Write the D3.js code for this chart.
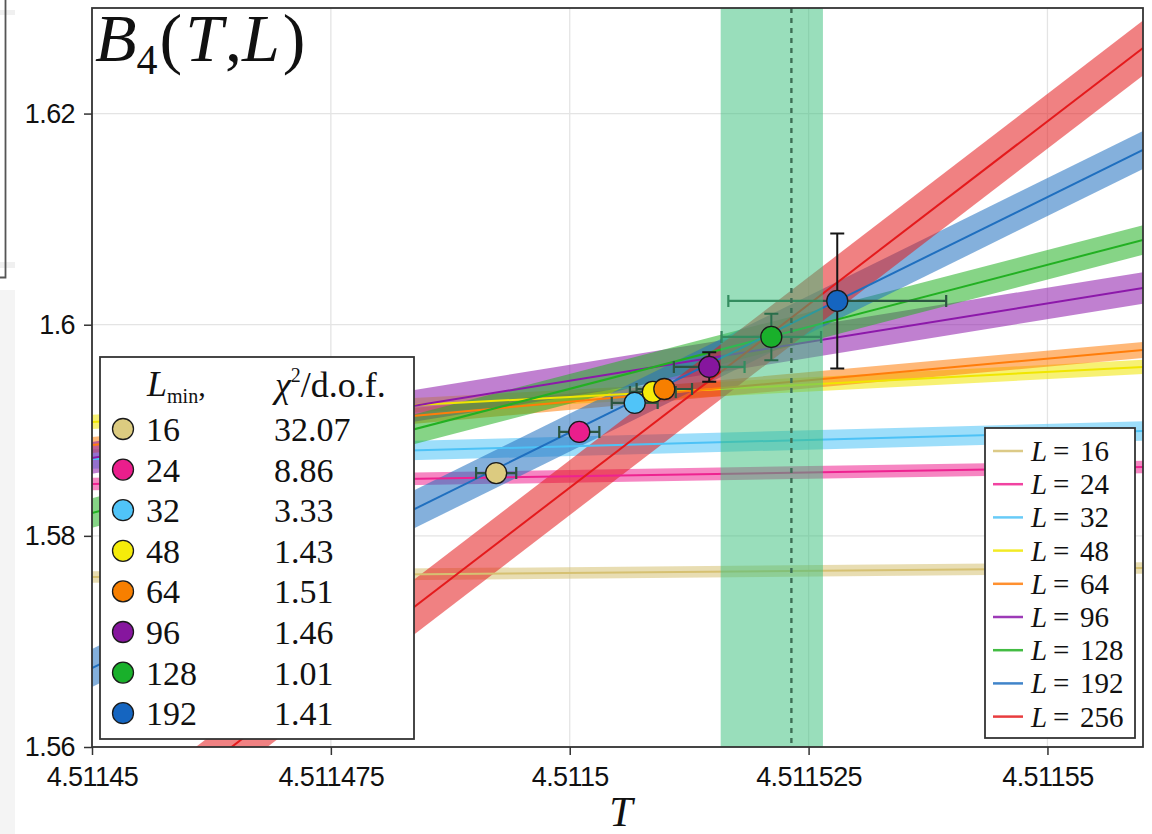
<!DOCTYPE html>
<html>
<head>
<meta charset="utf-8">
<script src="https://cdn.jsdelivr.net/npm/d3@7"></script>
<style>
  html, body { margin: 0; padding: 0; background: #ffffff; }
  svg { display: block; }
</style>
</head>
<body>
<svg id="chart" width="1152" height="834"></svg>
<script>
// ---- fit curves B4(T, L) for each lattice size ----
const sizes      = [16, 24, 32, 48, 64, 96, 128, 192, 256];
const lineColors = ["#d6c172", "#ee2290", "#4dc2f6", "#f0e600", "#ff7d0a", "#8c18aa", "#22b022", "#1f6fbf", "#e41a1c"];
const fitT       = [4.51145, 4.51156];                // T at the two ends of each fit line
const fitAtTmin  = [1.57610, 1.58491, 1.58728, 1.59079, 1.58861, 1.58738, 1.58217, 1.56748, 1.54986];
const fitAtTmax  = [1.57696, 1.58652, 1.58993, 1.59600, 1.59761, 1.60348, 1.60803, 1.61655, 1.62621];
const fitErr     = [0.00055, 0.00060, 0.00092, 0.00068, 0.00076, 0.00150, 0.00140, 0.00180, 0.00260];

// ---- crossing estimates for each L_min ----
const lmin       = [16, 24, 32, 48, 64, 96, 128, 192];
const pointFill  = ["#dccb80", "#ea1e8c", "#50c4f8", "#f5ec0a", "#f77f00", "#86169e", "#19b02b", "#1565c0"];
const crossT     = [4.5114923, 4.5115010, 4.5115068, 4.5115087, 4.5115099, 4.5115146, 4.5115211, 4.5115280];
const crossTErr  = [0.0000021, 0.0000021, 0.0000024, 0.0000024, 0.0000029, 0.0000037, 0.0000052, 0.0000114];
const crossB     = [1.58595, 1.58984, 1.59259, 1.59363, 1.59391, 1.59600, 1.59884, 1.60225];
const crossBErr  = [0.0003, 0.0003, 0.0004, 0.0005, 0.0005, 0.0014, 0.0022, 0.0064];
const chi2dof    = ["32.07", "8.86", "3.33", "1.43", "1.51", "1.46", "1.01", "1.41"];

// ---- critical temperature: estimate and its interval ----
const tcLine  = 4.5115232;
const tcRange = [4.5115158, 4.5115265];

// ---- axes ----
const xTicks      = [4.51145, 4.511475, 4.5115, 4.511525, 4.51155];
const xTickLabels = ["4.51145", "4.511475", "4.5115", "4.511525", "4.51155"];
const yTicks      = [1.56, 1.58, 1.6, 1.62];
const yTickLabels = ["1.56", "1.58", "1.6", "1.62"];

const svg = d3.select("#chart");
const L = 92, R = 1143, T = 8, B = 747;

const x = d3.scaleLinear().domain([4.51145, 4.51156]).range([L, R]);
const y = d3.scaleLinear().domain([1.56, 1.63]).range([B, T]);

// page-edge strip and frame on the left
svg.append("rect").attr("x", 0).attr("y", 290).attr("width", 15).attr("height", 544).attr("fill", "#f4f4f4");
svg.append("rect").attr("x", 0).attr("y", 262).attr("width", 15).attr("height", 6).attr("fill", "#f0f0f0");
svg.append("rect").attr("x", 0).attr("y", 10).attr("width", 15).attr("height", 5).attr("fill", "#f0f0f0");
svg.append("path").attr("d", "M5.5,0 V277.5 H0").attr("fill", "none").attr("stroke", "#555").attr("stroke-width", 1.8);

svg.append("defs").append("clipPath").attr("id", "plotClip")
  .append("rect").attr("x", L).attr("y", T).attr("width", R - L).attr("height", B - T);

// grid
const grid = svg.append("g");
grid.selectAll("line.vx").data(xTicks).join("line")
  .attr("x1", d => x(d)).attr("x2", d => x(d)).attr("y1", T).attr("y2", B)
  .attr("stroke", "#e4e4e4").attr("stroke-width", 1.3);
grid.selectAll("line.hy").data(yTicks).join("line")
  .attr("x1", L).attr("x2", R).attr("y1", d => y(d)).attr("y2", d => y(d))
  .attr("stroke", "#e4e4e4").attr("stroke-width", 1.3);

const plot = svg.append("g").attr("clip-path", "url(#plotClip)");

// fit bands and lines
const fits = sizes.map((s, i) => ({
  L: s, color: lineColors[i], err: fitErr[i],
  pts: fitT.map((t, j) => ({ t, b: j === 0 ? fitAtTmin[i] : fitAtTmax[i] }))
}));

const area = d3.area().x(d => x(d.t));
const line = d3.line().x(d => x(d.t)).y(d => y(d.b));

plot.selectAll("path.band").data(fits).join("path")
  .attr("d", f => area.y0(d => y(d.b - f.err)).y1(d => y(d.b + f.err))(f.pts))
  .attr("fill", f => f.color).attr("fill-opacity", 0.55);

plot.selectAll("path.fit").data(fits).join("path")
  .attr("d", f => line(f.pts))
  .attr("fill", "none").attr("stroke", f => f.color).attr("stroke-width", 2);

// error bars
const pts = lmin.map((l, i) => ({
  l, fill: pointFill[i], t: crossT[i], te: crossTErr[i], b: crossB[i], be: crossBErr[i], chi: chi2dof[i]
}));
const eb = plot.append("g");
pts.forEach(p => {
  const cx = x(p.t), cy = y(p.b);
  const x0 = x(p.t - p.te), x1 = x(p.t + p.te);
  const y0 = y(p.b - p.be), y1 = y(p.b + p.be);
  eb.append("path")
    .attr("d", `M${x0},${cy}H${x1}M${x0},${cy - 6}V${cy + 6}M${x1},${cy - 6}V${cy + 6}`)
    .attr("stroke", "#2b5540").attr("stroke-width", 2.2).attr("fill", "none");
  eb.append("path")
    .attr("d", `M${cx},${y0}V${y1}M${cx - 7},${y0}H${cx + 7}M${cx - 7},${y1}H${cx + 7}`)
    .attr("stroke", "#151515").attr("stroke-width", 2).attr("fill", "none");
});

// critical temperature interval and estimate
plot.append("rect")
  .attr("x", x(tcRange[0])).attr("width", x(tcRange[1]) - x(tcRange[0]))
  .attr("y", T).attr("height", B - T)
  .attr("fill", "#3cbf7c").attr("fill-opacity", 0.52);
plot.append("line")
  .attr("x1", x(tcLine)).attr("x2", x(tcLine)).attr("y1", T).attr("y2", B)
  .attr("stroke", "#3d6e55").attr("stroke-width", 2.4).attr("stroke-dasharray", "5,5");

// markers
plot.selectAll("circle.pt").data(pts).join("circle")
  .attr("cx", p => x(p.t)).attr("cy", p => y(p.b)).attr("r", 10.5)
  .attr("fill", p => p.fill).attr("stroke", "#1a1a1a").attr("stroke-width", 1.3);

// frame
svg.append("rect").attr("x", L).attr("y", T).attr("width", R - L).attr("height", B - T)
  .attr("fill", "none").attr("stroke", "#333").attr("stroke-width", 1.8);

// axes
const xAxis = d3.axisBottom(x).tickValues(xTicks).tickFormat((d, i) => xTickLabels[i]).tickSize(8).tickPadding(12);
const yAxis = d3.axisLeft(y).tickValues(yTicks).tickFormat((d, i) => yTickLabels[i]).tickSize(8).tickPadding(9);

const gx = svg.append("g").attr("transform", `translate(0,${B})`).call(xAxis);
const gy = svg.append("g").attr("transform", `translate(${L},0)`).call(yAxis);
[gx, gy].forEach(g => {
  g.select(".domain").remove();
  g.selectAll(".tick line").attr("stroke", "#333").attr("stroke-width", 1.5);
  g.selectAll(".tick text").attr("font-family", "'Liberation Sans', Arial, sans-serif")
    .attr("font-size", 27).attr("fill", "#111").attr("letter-spacing", -0.6);
});

// axis label
svg.append("text").attr("x", 621).attr("y", 826).attr("text-anchor", "middle")
  .attr("font-family", "'Liberation Serif', serif").attr("font-style", "italic")
  .attr("font-size", 42).attr("fill", "#111").text("T");

// title
const title = svg.append("text").attr("x", 95).attr("y", 61)
  .attr("font-family", "'Liberation Serif', serif").attr("font-size", 68).attr("fill", "#111");
title.append("tspan").attr("font-style", "italic").text("B");
title.append("tspan").attr("font-size", 42).attr("dy", 13).text("4");
title.append("tspan").attr("dy", -13).attr("dx", 2).text("(");
title.append("tspan").attr("font-style", "italic").attr("dx", 3).text("T");
title.append("tspan").attr("dx", 2).text(",");
title.append("tspan").attr("font-style", "italic").text("L");
title.append("tspan").attr("dx", 3).text(")");

// legend: L_min and chi^2/d.o.f.
const serif = "'Liberation Serif', serif";
const lg1 = svg.append("g");
lg1.append("rect").attr("x", 100).attr("y", 357).attr("width", 314).attr("height", 382)
  .attr("fill", "#fff").attr("stroke", "#333").attr("stroke-width", 1.8);
const h1 = lg1.append("text").attr("x", 147).attr("y", 396).attr("font-family", serif).attr("font-size", 36).attr("fill", "#111");
h1.append("tspan").attr("font-style", "italic").text("L");
h1.append("tspan").attr("font-size", 20).attr("dy", 7).text("min");
h1.append("tspan").attr("font-size", 30).attr("dy", -7).text(",");
const h2 = lg1.append("text").attr("x", 275).attr("y", 397).attr("font-family", serif).attr("font-size", 36).attr("fill", "#111");
h2.append("tspan").attr("font-style", "italic").text("χ");
h2.append("tspan").attr("font-size", 20).attr("dy", -15).text("2");
h2.append("tspan").attr("dy", 15).text("/d.o.f.");

const rowY = i => 429 + i * 40.6;
lg1.selectAll("circle").data(pts).join("circle")
  .attr("cx", 123).attr("cy", (d, i) => rowY(i)).attr("r", 10.5)
  .attr("fill", d => d.fill).attr("stroke", "#1a1a1a").attr("stroke-width", 1.3);
lg1.selectAll("text.lm").data(pts).join("text").attr("class", "lm")
  .attr("x", 146).attr("y", (d, i) => rowY(i) + 12)
  .attr("font-family", serif).attr("font-size", 34).attr("fill", "#111").text(d => d.l);
lg1.selectAll("text.chi").data(pts).join("text").attr("class", "chi")
  .attr("x", 274).attr("y", (d, i) => rowY(i) + 12)
  .attr("font-family", serif).attr("font-size", 34).attr("fill", "#111").text(d => d.chi);

// legend: fit lines
const lg2 = svg.append("g");
lg2.append("rect").attr("x", 985).attr("y", 428).attr("width", 150).attr("height", 310)
  .attr("fill", "#fff").attr("stroke", "#333").attr("stroke-width", 1.8);
const row2 = i => 451 + i * 33.2;
lg2.selectAll("line").data(fits).join("line")
  .attr("x1", 993).attr("x2", 1023).attr("y1", (d, i) => row2(i)).attr("y2", (d, i) => row2(i))
  .attr("stroke", d => d.color).attr("stroke-width", 2.5).attr("stroke-opacity", 0.85);
const t2 = lg2.selectAll("text").data(fits).join("text")
  .attr("y", (d, i) => row2(i) + 10).attr("font-family", serif).attr("font-size", 29).attr("fill", "#111");
t2.append("tspan").attr("x", 1031).attr("font-style", "italic").text("L");
t2.append("tspan").attr("x", 1053).text("=");
t2.append("tspan").attr("x", 1080).text(d => d.L);
</script>
</body>
</html>
